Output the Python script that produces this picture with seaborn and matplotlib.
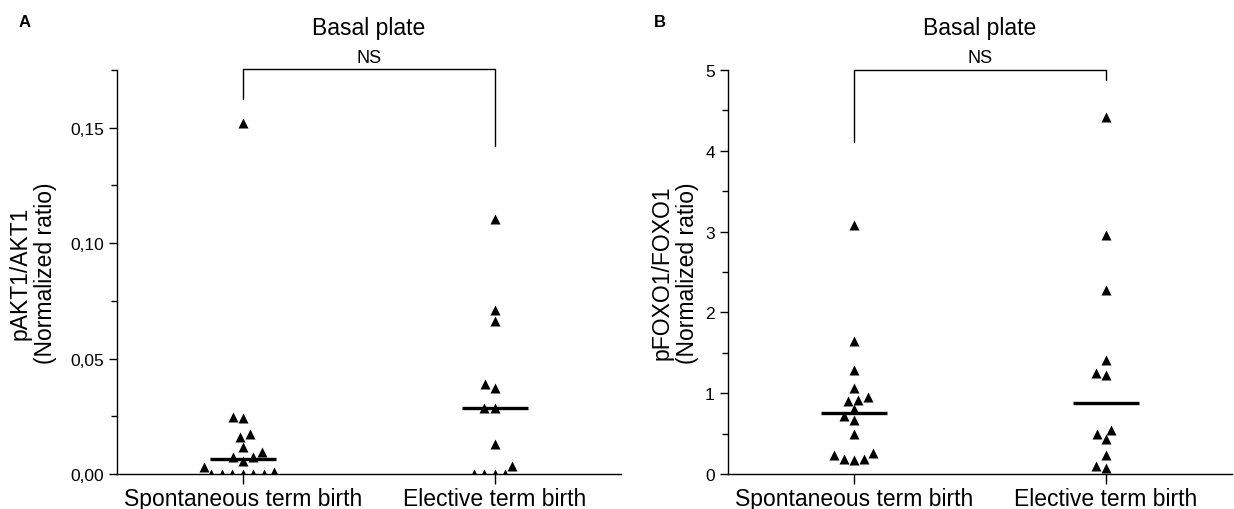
import numpy as np
import pandas as pd
import matplotlib
matplotlib.use("Agg")
import matplotlib.pyplot as plt
import matplotlib.transforms as mtransforms
from matplotlib.ticker import MultipleLocator
import seaborn as sns

# values
groups = ["Spontaneous term birth", "Elective term birth"]

akt_spont = [0.152, 0.0248, 0.0244, 0.0172, 0.0160, 0.0118, 0.0096, 0.0075,
             0.0073, 0.0057, 0.0031, 0.0010, 0, 0, 0, 0, 0, 0]
akt_elect = [0.1106, 0.0711, 0.0664, 0.0388, 0.0371, 0.0287, 0.0284, 0.0129,
             0.0033, 0, 0, 0, 0]

foxo_spont = [3.08, 1.64, 1.29, 1.07, 0.95, 0.92, 0.90, 0.80, 0.72, 0.67,
              0.50, 0.26, 0.23, 0.19, 0.19, 0.17]
foxo_elect = [4.42, 2.96, 2.28, 1.41, 1.25, 1.23, 0.54, 0.50, 0.43, 0.24,
              0.10, 0.08]

akt_ticks = [0, 0.05, 0.10, 0.15]
akt_ticklabels = ["0,00", "0,05", "0,10", "0,15"]
foxo_ticks = [0, 1, 2, 3, 4, 5]
foxo_ticklabels = ["0", "1", "2", "3", "4", "5"]

# bracket heights (left end, top, right end)
akt_bracket = (0.1625, 0.1755, 0.142)
foxo_bracket = (4.11, 5.0, 4.87)


def long_df(a, b):
    return pd.DataFrame({
        "group": [groups[0]] * len(a) + [groups[1]] * len(b),
        "value": list(a) + list(b),
    })


sns.set_style("ticks")
plt.rcParams["font.family"] = ["Liberation Sans", "DejaVu Sans"]
for k in ["text.color", "axes.labelcolor", "xtick.color", "ytick.color",
          "axes.edgecolor"]:
    plt.rcParams[k] = "black"

fig = plt.figure(figsize=(12.34, 5.10), dpi=100)
axA = fig.add_axes([0.0948, 0.0686, 0.4084, 0.7922])
axB = fig.add_axes([0.590, 0.0686, 0.4084, 0.7922])

panels = [
    (axA, long_df(akt_spont, akt_elect), "pAKT1/AKT1\n(Normalized ratio)",
     0.175, 0.025, akt_ticks, akt_ticklabels, akt_bracket, -0.120),
    (axB, long_df(foxo_spont, foxo_elect), "pFOXO1/FOXO1\n(Normalized ratio)",
     5.0, 0.5, foxo_ticks, foxo_ticklabels, foxo_bracket, -0.058),
]

for ax, df, ylab, ytop, minor, ticks, ticklabels, br, labx in panels:
    # median line only
    sns.boxplot(data=df, x="group", y="value", order=groups, ax=ax,
                width=0.26, whis=0, showbox=False, showcaps=False,
                showfliers=False, whiskerprops={"visible": False},
                medianprops={"color": "black", "linewidth": 2.4},
                color="white")
    sns.swarmplot(data=df, x="group", y="value", order=groups, ax=ax,
                  marker="^", color="black", size=7.2, linewidth=0)

    ax.set_xlim(-0.5, 1.5)
    ax.set_ylim(0, ytop)
    ax.set_yticks(ticks)
    ax.set_yticklabels(ticklabels, fontsize=12.5)
    ax.yaxis.set_minor_locator(MultipleLocator(minor))
    ax.tick_params(axis="y", which="major", length=6, width=1, direction="out")
    ax.tick_params(axis="y", which="minor", length=4, width=1, direction="out")
    ax.tick_params(axis="x", length=7, width=1, labelsize=16.5, pad=2)
    ax.set_xlabel("")
    ax.set_ylabel(ylab, fontsize=16.5, linespacing=1.1)
    ax.yaxis.set_label_coords(labx, 0.5)
    for s in ["top", "right"]:
        ax.spines[s].set_visible(False)
    for s in ["left", "bottom"]:
        ax.spines[s].set_linewidth(1.0)
        ax.spines[s].set_color("black")

    # significance bracket
    ax.plot([0, 0, 1, 1], [br[0], br[1], br[1], br[2]], color="black",
            linewidth=1.0, clip_on=False)
    trans = mtransforms.blended_transform_factory(ax.transData, ax.transAxes)
    ax.text(0.5, 1.032, "NS", transform=trans, ha="center", va="center",
            fontsize=13)
    ax.text(0.5, 1.106, "Basal plate", transform=ax.transAxes, ha="center",
            va="center", fontsize=16.5)

fig.text(0.015, 0.955, "A", fontsize=12, fontweight="bold", va="center")
fig.text(0.530, 0.955, "B", fontsize=12, fontweight="bold", va="center")

fig.savefig("out.png", dpi=100)
